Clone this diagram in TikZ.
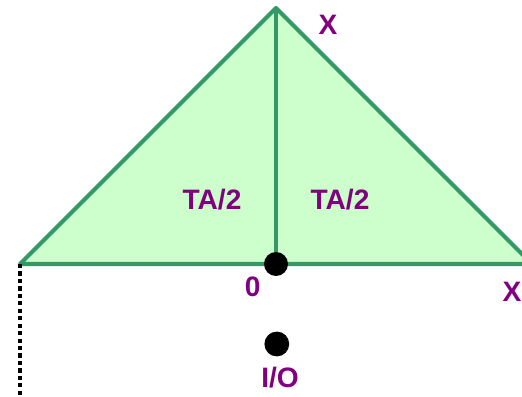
\documentclass[tikz,border=0pt]{standalone}
\usepackage{fontspec}
\setmainfont{Liberation Sans}
\usepackage{tikz}
\definecolor{areafill}{HTML}{CCFFCC}
\definecolor{areaedge}{HTML}{339966}
\definecolor{labelpurple}{HTML}{800080}
\begin{document}
\begin{tikzpicture}[
    lbl/.style={text=labelpurple, font=\fontsize{20}{21}\selectfont\bfseries, inner sep=0pt},
    edge/.style={draw=areaedge, line width=2.9pt, line join=round}
  ]
  \useasboundingbox (0,0) rectangle (13.05,9.9);
  \clip (0,0) rectangle (13.05,9.9);

  % Triangle area
  \coordinate (apex) at (6.9,9.7);
  \coordinate (left) at (0.5,3.3);
  \coordinate (right) at (13.3,3.3);
  \coordinate (base) at (6.9,3.3);
  \filldraw[edge, fill=areafill] (left) -- (apex) -- (right) -- cycle;
  \draw[edge] (apex) -- (base);

  % Dotted drop
  \draw[black, line width=2.6pt, dash pattern=on 3pt off 2.3pt] (left) -- (0.5,0);

  % Points
  \fill[black] (base) circle (0.3);
  \fill[black] (6.92,1.3) circle (0.31);

  % Labels
  \node[lbl] (xtop) at (8.2,9.28) {X};
  \node[lbl] (taleft) at (5.3,4.92) {TA/2};
  \node[lbl] (taright) at (8.5,4.92) {TA/2};
  \node[lbl] (zero) at (6.32,2.73) {0};
  \node[lbl] (xright) at (12.8,2.6) {X};
  \node[lbl] (io) at (7.0,0.47) {I/O};
\end{tikzpicture}
\end{document}
